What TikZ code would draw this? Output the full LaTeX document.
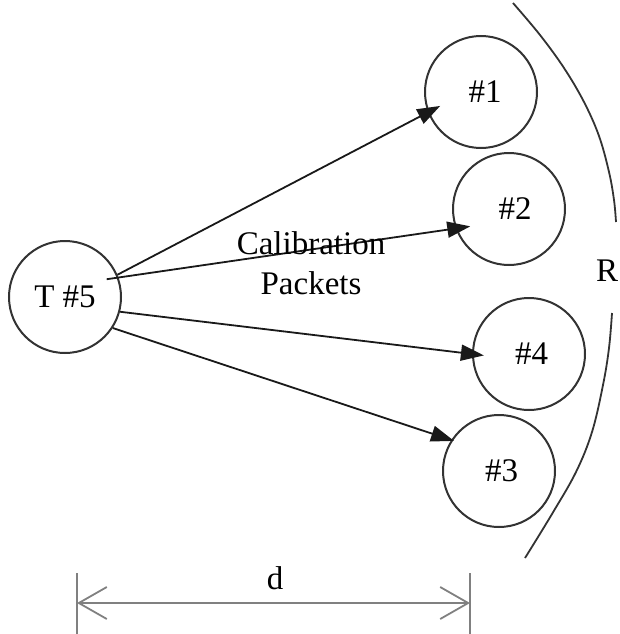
\documentclass[tikz,border=0pt]{standalone}
\usepackage{fontspec}
\setmainfont{Liberation Serif}
\usetikzlibrary{arrows.meta}
\begin{document}
\begin{tikzpicture}[x=1pt,y=-1pt,
  nodecirc/.style={draw=black!80, circle, line width=2pt, minimum size=112pt, inner sep=0pt, font=\fontsize{33}{36}\selectfont},
  arr/.style={draw=black!90, line width=1.8pt, -{Triangle[length=23pt,width=16pt]}},
  lbl/.style={font=\fontsize{33}{40}\selectfont, align=center},
  dim/.style={line width=1.8pt, draw=black!50},
  arcline/.style={draw=black!80, line width=1.8pt},
  ]
\useasboundingbox (0,0) rectangle (619,634);

% nodes
\node[nodecirc] (t5) at (65,297) {T \#5};
\node[nodecirc] (n1) at (481,92) {\raisebox{-5pt}{\hspace{8pt}\#1}};
\node[nodecirc] (n2) at (509,209) {\raisebox{-6pt}{\hspace{12pt}\#2}};
\node[nodecirc] (n4) at (529,354) {\raisebox{-4pt}{\hspace{5pt}\#4}};
\node[nodecirc] (n3) at (499,471) {\raisebox{-7pt}{\hspace{5pt}\#3}};

% arrows
\draw[arr, shorten >=-14pt] (t5.23) -- (n1.201);
\draw[arr, shorten <=-12pt, shorten >=-15pt] (t5.20) -- (n2.200);
\draw[arr, shorten >=-12pt] (t5.-15) -- (n4.180);
\draw[arr, shorten >=-3pt] (t5.-33) -- (n3.147);

% label
\node[lbl] (cal) at (311,263) {Calibration\\Packets};

% range arc
\draw[arcline] plot[smooth, tension=0.6] coordinates {(513,3) (540,35) (564,68) (584,102) (599,136) (609,172) (614,200) (616,222)};
\draw[arcline] plot[smooth, tension=0.6] coordinates {(612,313) (609,348) (603,385) (592,432) (576,472) (552,514) (525,558)};
\node[font=\fontsize{33}{36}\selectfont] (r) at (607,271) {R};

% dimension
\coordinate (dla) at (77,573);
\coordinate (dlb) at (77,634);
\coordinate (dra) at (470,573);
\coordinate (drb) at (470,634);
\coordinate (dl) at (77,603);
\coordinate (dr) at (470,603);
\draw[dim] (dla) -- (dlb);
\draw[dim] (dra) -- (drb);
\draw[dim, {Straight Barb[length=28pt,width=32pt]}-{Straight Barb[length=28pt,width=32pt]}] (dl) -- (dr);
\node[font=\fontsize{33}{36}\selectfont] (dlab) at (275,578) {d};
\end{tikzpicture}
\end{document}
